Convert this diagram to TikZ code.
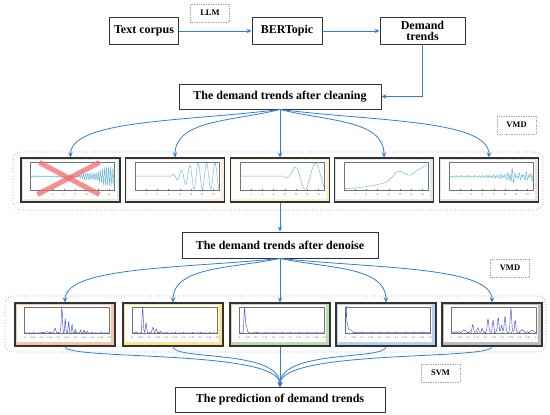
\documentclass[tikz,border=0pt]{standalone}
\usepackage{fontspec}
\setmainfont{Liberation Serif}
\usepackage{xcolor}
\usetikzlibrary{arrows.meta,positioning}
\definecolor{arrowc}{HTML}{2F7ED8}
\definecolor{sigc1}{HTML}{6BB8D6}
\definecolor{sigc2}{HTML}{4C4CE2}
\definecolor{crossc}{HTML}{F26B6B}
\definecolor{tint1a}{HTML}{E4EFD9}
\definecolor{tint1b}{HTML}{FCEADB}
\definecolor{tint1c}{HTML}{FDF0CB}
\definecolor{tint1d}{HTML}{DCEAF6}
\definecolor{tint1e}{HTML}{E6E6E6}
\definecolor{tint2a}{HTML}{F8C6A6}
\definecolor{tint2b}{HTML}{FFE38F}
\definecolor{tint2c}{HTML}{BFDDAA}
\definecolor{tint2d}{HTML}{B4D3EE}
\definecolor{tint2e}{HTML}{BDBDBD}
\tikzset{
  stage/.style={draw=black!80,line width=0.9pt,fill=white,minimum height=26,inner sep=1.5pt,
                align=center,font=\bfseries\fontsize{12}{12}\selectfont},
  tag/.style={draw=black!35,densely dotted,line width=0.7pt,minimum width=39,minimum height=18,
              inner sep=1pt,font=\bfseries\fontsize{8.5}{9}\selectfont},
  flow/.style={-{Stealth[length=5pt,width=4.5pt]},line width=0.8pt,draw=#1},
  flow/.default=arrowc,
  group/.style={draw=black!40,dotted,line width=0.7pt,rounded corners=8pt},
  panel/.style={draw=black!80,line width=1.1pt,fill=#1,minimum width=99,minimum height=44,inner sep=0pt},
  axisline/.style={draw=black!55,line width=0.3pt},
  ticklbl/.style={font=\fontsize{2.6}{3}\selectfont,inner sep=0pt,text=black!70},
  sigone/.style={draw=sigc1,line width=0.45pt},
  sigtwo/.style={draw=sigc2,line width=0.45pt},
  cross/.style={draw=crossc,line width=5pt,opacity=0.75},
}
% plot frames, drawn in a panel's local scope
\newcommand\frameone{%
  \fill[white] (2.5,2.5) rectangle (96.5,41.5);
  \draw[axisline] (10,5) rectangle (94,33);
  \foreach \t in {2,4,...,14} {
    \draw[axisline] ({10+84*\t/15},33) -- ++(0,-1);
    \node[ticklbl] (tk\t) at ({10+84*\t/15},37.5) {\t};
  }
}
\newcommand\frametwo{%
  \fill[white] (3,3) rectangle (97,39.5);
  \draw[axisline] (10,5) rectangle (95,31);
  \foreach \l [count=\i from 0] in {0,0.05,0.1,0.15,0.2,0.25,0.3,0.35,0.4,0.45,0.5} {
    \draw[axisline] ({10+8.5*\i},31) -- ++(0,-1);
    \node[ticklbl] (tk\i) at ({10+8.5*\i},35) {\l};
  }
}

\begin{document}
\begin{tikzpicture}[x=1pt,y=-1pt,
  declare function={pk(\xa,\xc,\xs)=exp(-pow(min(abs(\xa-\xc)/\xs,3.5),2));}]
  \useasboundingbox (0,0) rectangle (550,415);

  % text pipeline
  \node[stage,minimum width=69,minimum height=27] (corpus) at (144,31) {Text corpus};
  \node[stage,minimum width=70,minimum height=27] (bert) at (287,31) {BERTopic};
  \node[stage,minimum width=85,minimum height=27,inner sep=0.5pt,
        font=\bfseries\fontsize{12}{11.5}\selectfont] (demand) at (422.5,31) {Demand\\trends};
  \node[tag] (llm) at (210,13) {LLM};
  \node[stage,minimum width=202,minimum height=25] (clean) at (280,96.5) {The demand trends after cleaning};
  \draw[flow] (corpus) -- (bert);
  \draw[flow] (bert) -- (demand);
  \draw[flow] (demand.south) |- (clean.east);

  % VMD modes of the cleaned trends
  \draw[group] (13,152) rectangle (543,210);
  \node[tag] (vmda) at (516.5,125) {VMD};
  \node[panel=tint1a] (r1a) at (70.5,180) {};
  \node[panel=tint1b] (r1b) at (175,180) {};
  \node[panel=tint1c] (r1c) at (280,180) {};
  \node[panel=tint1d] (r1d) at (384,180) {};
  \node[panel=tint1e] (r1e) at (489,180) {};

  \begin{scope}[shift={(r1a.north west)}]
    \frameone
    \draw[sigone] plot[domain=0:1,samples=300] ({10+84*\x},{19-12*(0.05+2*max(0,\x-0.55))*sin(14400*\x)*(0.8+0.2*sin(1300*\x))});
    \draw[cross] (19,5) -- (79,37);
    \draw[cross] (79,5) -- (17,37);
  \end{scope}
  \begin{scope}[shift={(r1b.north west)}]
    \frameone
    \draw[sigone] plot[domain=0:1,samples=250] ({10+84*\x},{19-13*(0.03+min(1,max(0,(\x-0.42)*3.5))*sin(3600*\x-100))});
  \end{scope}
  \begin{scope}[shift={(r1c.north west)}]
    \frameone
    \draw[sigone] plot[domain=0:1,samples=200] ({10+84*\x},{19-13*(0.02+min(1,max(0,(\x-0.52)*5))*sin(1440*\x-126))});
  \end{scope}
  \begin{scope}[shift={(r1d.north west)}]
    \frameone
    \draw[sigone] plot[domain=0:1,samples=150] ({10+84*\x},{19-13*(-0.92+1.85*\x^2+0.55*pk(\x,0.64,0.08)-0.15*pk(\x,0.8,0.05))});
  \end{scope}
  \begin{scope}[shift={(r1e.north west)}]
    \frameone
    \draw[sigone] plot[domain=0:1,samples=300] ({10+84*\x},{19-13*(0.08+0.5*max(0,\x-0.4)+0.6*pk(\x,0.74,0.03))*(0.6*sin(13000*\x)+0.4*sin(8300*\x))});
  \end{scope}

  \node[stage,minimum width=196] (denoise) at (280,245) {The demand trends after denoise};
  \foreach \p/\dx in {r1a/-94,r1b/-47,r1d/47,r1e/94}
    \draw[flow] (clean.south) .. controls +(\dx,12) and +(0,-38) .. (\p.north);
  \draw[flow] (clean.south) -- (r1c.north);
  \draw[flow] (r1c.south) -- (denoise.north);

  % spectra of the denoised trends
  \draw[group] (5,296) rectangle (546,352);
  \node[tag] (vmdb) at (510,268) {VMD};
  \node[panel=tint2a,minimum width=100,minimum height=43] (r2a) at (65,324.5) {};
  \node[panel=tint2b,minimum width=100,minimum height=43] (r2b) at (173,324.5) {};
  \node[panel=tint2c,minimum width=100,minimum height=43] (r2c) at (280,324.5) {};
  \node[panel=tint2d,minimum width=100,minimum height=43] (r2d) at (386,324.5) {};
  \node[panel=tint2e,minimum width=100,minimum height=43] (r2e) at (492,324.5) {};

  \begin{scope}[shift={(r2a.north west)}]
    \frametwo
    \draw[sigtwo] plot[domain=0:1,samples=300] ({10+85*\x},{31-25*(0.02+0.005*sin(7000*\x)+0.04*pk(\x,0.26,0.04)+0.2*pk(\x,0.36,0.012)+1.0*pk(\x,0.44,0.01)+0.55*pk(\x,0.48,0.008)+0.45*pk(\x,0.52,0.008)+0.35*pk(\x,0.56,0.008)+0.15*pk(\x,0.6,0.008)+0.12*pk(\x,0.66,0.008)+0.12*pk(\x,0.7,0.008)+0.06*pk(\x,0.74,0.008))});
  \end{scope}
  \begin{scope}[shift={(r2b.north west)}]
    \frametwo
    \draw[sigtwo] plot[domain=0:1,samples=300] ({10+85*\x},{31-25*(0.02+0.004*sin(8000*\x)+0.05*pk(\x,0.04,0.01)+1.0*pk(\x,0.12,0.01)+0.4*pk(\x,0.16,0.01)+0.22*pk(\x,0.24,0.012)+0.15*pk(\x,0.28,0.01)+0.06*pk(\x,0.33,0.01))});
  \end{scope}
  \begin{scope}[shift={(r2c.north west)}]
    \frametwo
    \draw[sigtwo] plot[domain=0:1,samples=300] ({10+85*\x},{31-25*(0.02+0.95*pk(\x,0.06,0.01)+0.3*pk(\x,0.08,0.014)+0.02*pk(\x,0.2,0.03))});
  \end{scope}
  \begin{scope}[shift={(r2d.north west)}]
    \frametwo
    \draw[sigtwo] plot[domain=0:1,samples=300] ({10+85*\x},{31-25*(0.03+0.95*pk(\x,0.008,0.006)+0.35*pk(\x,0.02,0.012)+0.12*pk(\x,0.05,0.03))});
  \end{scope}
  \begin{scope}[shift={(r2e.north west)}]
    \frametwo
    \draw[sigtwo] plot[domain=0:1,samples=300] ({10+85*\x},{31-25*(0.05+0.02*sin(9000*\x)+0.08*pk(\x,0.15,0.02)+0.28*pk(\x,0.25,0.012)+0.2*pk(\x,0.31,0.012)+0.15*pk(\x,0.36,0.01)+0.55*pk(\x,0.43,0.012)+0.45*pk(\x,0.49,0.012)+0.6*pk(\x,0.55,0.012)+0.3*pk(\x,0.59,0.01)+0.65*pk(\x,0.63,0.012)+0.95*pk(\x,0.7,0.012)+0.5*pk(\x,0.75,0.01)+0.12*pk(\x,0.83,0.015)+0.1*pk(\x,0.95,0.015))});
  \end{scope}

  \foreach \p/\dx in {r2a/-97,r2b/-48,r2d/48,r2e/95}
    \draw[flow] (denoise.south) .. controls +(\dx,10) and +(0,-36) .. (\p.north);
  \draw[flow] (denoise.south) -- (r2c.north);

  % SVM prediction
  \node[stage,minimum width=210,minimum height=25] (pred) at (280,400) {The prediction of demand trends};
  \node[tag] (svm) at (440.5,373) {SVM};
  \foreach \p in {r2a,r2b,r2d,r2e}
    \draw[flow] (\p.south) .. controls +(0,14) and +(0,-38) .. (pred.north);
  \draw[flow] (r2c.south) -- (pred.north);
\end{tikzpicture}
\end{document}
